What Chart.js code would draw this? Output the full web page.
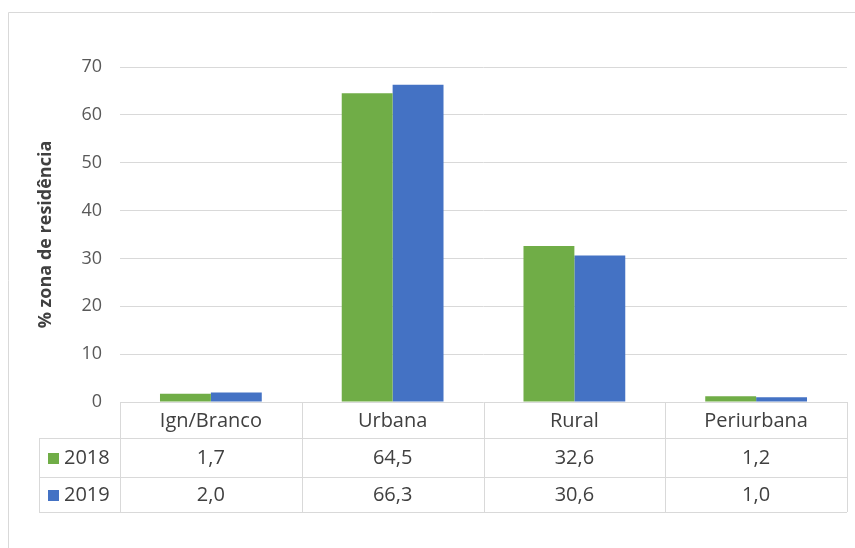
<!DOCTYPE html>
<html>
<head>
<meta charset="utf-8">
<script src="https://cdn.jsdelivr.net/npm/chart.js@4.4.1/dist/chart.umd.min.js"></script>
<style>
html,body{margin:0;padding:0;background:#fff;}
canvas{display:block;}
</style>
</head>
<body>
<canvas id="c" width="855" height="548"></canvas>
<script>
const categories = ['Ign/Branco', 'Urbana', 'Rural', 'Periurbana'];
const seriesNames = ['2018', '2019'];
const values2018 = [1.7, 64.5, 32.6, 1.2];
const values2019 = [2.0, 66.3, 30.6, 1.0];
const yTicks = [0, 10, 20, 30, 40, 50, 60, 70];
const yTitle = '% zona de residência';

const GREEN = '#70AD47';
const BLUE = '#4472C4';
const GRID = '#d9d9d9';
const FONT = '"Open Sans", "Noto Sans", sans-serif';

const fmt = v => v.toFixed(1).replace('.', ',');

const tablePlugin = {
  id: 'dataTable',
  beforeDraw(chart) {
    const ctx = chart.ctx;
    ctx.save();
    ctx.strokeStyle = GRID;
    ctx.lineWidth = 1;
    ctx.beginPath();
    ctx.moveTo(8.5, 548);
    ctx.lineTo(8.5, 12.5);
    ctx.lineTo(855, 12.5);
    ctx.stroke();
    ctx.restore();
  },
  afterDraw(chart) {
    const ctx = chart.ctx;
    const area = chart.chartArea;
    const xs = chart.scales.x;
    const n = categories.length;
    const cw = (area.right - area.left) / n;
    const top = area.bottom;
    const r1 = top + 36;
    const r2 = r1 + 39;
    const r3 = r2 + 35;
    const leftCol = 39;
    ctx.save();
    ctx.strokeStyle = GRID;
    ctx.lineWidth = 1;
    ctx.beginPath();
    [r1, r2, r3].forEach(y => {
      ctx.moveTo(leftCol, Math.round(y) + 0.5);
      ctx.lineTo(area.right, Math.round(y) + 0.5);
    });
    ctx.moveTo(leftCol + 0.5, r1);
    ctx.lineTo(leftCol + 0.5, r3);
    for (let i = 0; i <= n; i++) {
      const x = Math.round(area.left + i * cw) + 0.5;
      ctx.moveTo(x, top);
      ctx.lineTo(x, r3);
    }
    ctx.stroke();

    ctx.fillStyle = '#404040';
    ctx.textAlign = 'center';
    ctx.textBaseline = 'middle';
    ctx.font = '20px ' + FONT;
    const rows = [values2018, values2019];
    categories.forEach((c, i) => {
      const cx = xs.getPixelForValue(i);
      ctx.fillText(c, cx, (top + r1) / 2 + 1);
      ctx.fillText(fmt(rows[0][i]), cx, (r1 + r2) / 2 + 1);
      ctx.fillText(fmt(rows[1][i]), cx, (r2 + r3) / 2 + 1);
    });
    const colors = [GREEN, BLUE];
    const ys = [(r1 + r2) / 2, (r2 + r3) / 2];
    seriesNames.forEach((s, k) => {
      ctx.fillStyle = colors[k];
      ctx.fillRect(48, Math.round(ys[k]) - 5, 11, 11);
      ctx.fillStyle = '#404040';
      ctx.textAlign = 'left';
      ctx.fillText(s, 64, ys[k] + 1);
    });
    ctx.restore();
  }
};

new Chart(document.getElementById('c'), {
  type: 'bar',
  data: {
    labels: categories,
    datasets: [
      { label: seriesNames[0], data: values2018, backgroundColor: GREEN },
      { label: seriesNames[1], data: values2019, backgroundColor: BLUE }
    ]
  },
  options: {
    responsive: false,
    animation: false,
    events: [],
    layout: { padding: { top: 67, right: 8, bottom: 146, left: 0 } },
    datasets: { bar: { categoryPercentage: 0.56, barPercentage: 1.0 } },
    plugins: { legend: { display: false }, tooltip: { enabled: false } },
    scales: {
      x: { display: false },
      y: {
        min: 0, max: 70,
        afterBuildTicks(scale) { scale.ticks = yTicks.map(v => ({ value: v })); },
        afterFit(scale) { scale.width = 120; },
        grid: { color: GRID, lineWidth: 1, drawTicks: false },
        border: { display: false },
        ticks: { padding: 18, color: '#595959', font: { family: FONT, size: 18 } },
        title: {
          display: true, text: yTitle, color: '#404040',
          font: { family: FONT, size: 18, weight: 'bold' },
          padding: { top: 35, bottom: 0 }
        }
      }
    }
  },
  plugins: [tablePlugin]
});
</script>
</body>
</html>
